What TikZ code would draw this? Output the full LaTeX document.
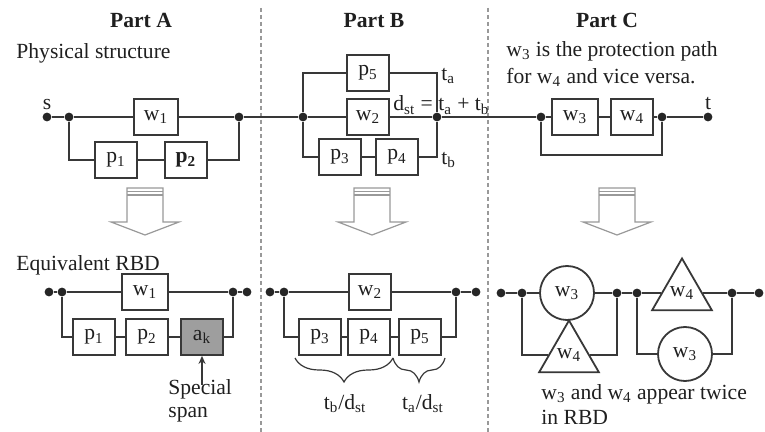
\documentclass[tikz,border=0pt]{standalone}
\usepackage{fontspec}
\setmainfont{Liberation Serif}
\usetikzlibrary{arrows.meta, shapes.geometric, decorations.pathreplacing, positioning}

\definecolor{wirecol}{gray}{0.22}
\definecolor{spanfill}{gray}{0.62}
\definecolor{divgray}{gray}{0.6}
\newcommand{\sbs}[1]{\textsubscript{#1}}

\begin{document}
\begin{tikzpicture}[x=0.5pt, y=-0.5pt,
    every node/.style={font=\fontsize{10.8}{13.5}\selectfont, text=black!88},
    head/.style={font=\fontsize{10.8}{13.5}\selectfont\bfseries},
    txt/.style={inner sep=1pt},
    blk/.style={draw=wirecol, line width=0.9pt, minimum width=21pt, minimum height=18pt, inner sep=0pt, fill=white},
    circ/.style={draw=wirecol, line width=0.9pt, circle, minimum size=27pt, inner sep=0pt},
    tri/.style={draw=wirecol, line width=0.9pt, regular polygon, regular polygon sides=3, minimum size=34.5pt, inner sep=0pt},
    dot/.style={circle, fill=black!85, inner sep=0pt, minimum size=4.4pt},
    ln/.style={draw=wirecol, line width=0.8pt},
    divider/.style={draw=divgray, line width=0.6pt, dash pattern=on 2pt off 1.5pt},
    hollow/.style={draw=divgray, line width=0.6pt, fill=white},
    brc/.style={decorate, decoration={brace, mirror, amplitude=12pt}, draw=wirecol, line width=0.6pt}
]
\useasboundingbox (0,0) rectangle (765,432);

% column dividers
\draw[divider] (261,8) -- (261,432);
\draw[divider] (488,8) -- (488,432);

\node[head, anchor=base] (hA) at (141,28) {Part A};
\node[head, anchor=base] (hB) at (374,28) {Part B};
\node[head, anchor=base] (hC) at (607,28) {Part C};

\node[txt, anchor=base west] (physA) at (14,59) {Physical structure};
\node[txt, anchor=north west, align=left] (noteC) at (504,39) {w\sbs{3} is the protection path\\for w\sbs{4} and vice versa.};

% physical structure, part A
\node[dot, label={[txt]above:s}] (s) at (47,117) {};
\node[dot] (aL) at (69,117) {};
\node[dot] (aR) at (239,117) {};
\node[blk, minimum width=22pt] (w1) at (156,117) {w\sbs{1}};
\node[blk] (p1) at (116,160) {p\sbs{1}};
\node[blk] (p2) at (186,160) {\textbf{p\sbs{2}}};

% physical structure, part B
\node[dot] (bL) at (303,117) {};
\node[dot] (bR) at (437,117) {};
\node[blk] (p5) at (368,73) {p\sbs{5}};
\node[blk] (w2) at (368,117) {w\sbs{2}};
\node[blk] (p3) at (340,157) {p\sbs{3}};
\node[blk] (p4) at (397,157) {p\sbs{4}};
\node[txt, anchor=west] (ta) at (439,76) {t\sbs{a}};
\node[txt, anchor=west] (tb) at (439,160) {t\sbs{b}};
\node[txt, anchor=base west] (dst) at (391,111) {d\sbs{st} = t\sbs{a} + t\sbs{b}};

% physical structure, part C
\node[dot] (cL) at (541,117) {};
\node[dot] (cR) at (662,117) {};
\node[blk, minimum width=23pt] (w3) at (575,117) {w\sbs{3}};
\node[blk] (w4) at (632,117) {w\sbs{4}};
\node[dot, label={[txt]above:t}] (t) at (708,117) {};
\coordinate (cB) at (600,155);

\draw[ln] (s) -- (aL) -- (w1) -- (aR) -- (bL) -- (w2) -- (bR) -- (cL) -- (w3) -- (w4) -- (cR) -- (t);
\draw[ln] (aL) |- (p1) -- (p2) -| (aR);
\draw[ln] (bL) |- (p5) -| (bR);
\draw[ln] (bL) |- (p3) -- (p4) -| (bR);
\draw[ln] (cL) |- (cB) -| (cR);

% hollow arrows
\foreach \ax in {145,372,617}{
  \draw[hollow] (\ax-18,188) -- (\ax+18,188) -- (\ax+18,222) -- (\ax+34,222) -- (\ax,235) -- (\ax-34,222) -- (\ax-18,222) -- cycle;
  \draw[hollow] (\ax-18,191.5) -- (\ax+18,191.5) (\ax-18,195) -- (\ax+18,195);
}

\node[txt, anchor=base west] (rbdA) at (14,271) {Equivalent RBD};

% equivalent RBD, part A
\node[dot] (a1) at (49,292) {};
\node[dot] (a2) at (62,292) {};
\node[dot] (a3) at (233,292) {};
\node[dot] (a4) at (247,292) {};
\node[blk, minimum width=23pt] (rw1) at (145,292) {w\sbs{1}};
\node[blk] (rp1) at (94,337) {p\sbs{1}};
\node[blk] (rp2) at (147,337) {p\sbs{2}};
\node[blk, fill=spanfill] (ak) at (202,337) {a\sbs{k}};
\node[txt, anchor=north west, align=left] (spec) at (166,377) {Special\\[-2pt]span};

\draw[ln] (a1) -- (a2) -- (rw1) -- (a3) -- (a4);
\draw[ln] (a2) |- (rp1) -- (rp2) -- (ak) -| (a3);
\draw[ln, -{Stealth[length=4pt, width=3.5pt]}] ([yshift=-4]spec.north -| ak.south) -- (ak.south);

% equivalent RBD, part B
\node[dot] (b1) at (270,292) {};
\node[dot] (b2) at (284,292) {};
\node[dot] (b3) at (456,292) {};
\node[dot] (b4) at (476,292) {};
\node[blk] (rw2) at (370,292) {w\sbs{2}};
\node[blk] (rp3) at (320,337) {p\sbs{3}};
\node[blk] (rp4) at (369,337) {p\sbs{4}};
\node[blk] (rp5) at (420,337) {p\sbs{5}};
\coordinate (br1) at (295,358);
\coordinate (br2) at (393,358);
\coordinate (br3) at (445,358);
\node[txt, anchor=base] (lb1) at (345,409) {t\sbs{b}/d\sbs{st}};
\node[txt, anchor=base] (lb2) at (423,409) {t\sbs{a}/d\sbs{st}};

\draw[ln] (b1) -- (b2) -- (rw2) -- (b3) -- (b4);
\draw[ln] (b2) |- (rp3) -- (rp4) -- (rp5) -| (b3);
\draw[brc] (br1) -- (br2);
\draw[brc] (br2) -- (br3);

% equivalent RBD, part C
\node[dot] (c1) at (501,293) {};
\node[dot] (c2) at (522,293) {};
\node[dot] (c3) at (617,293) {};
\node[dot] (c4) at (637,293) {};
\node[dot] (c5) at (732,293) {};
\node[dot] (c6) at (759,293) {};
\node[circ] (rw3a) at (567,293) {w\sbs{3}};
\node[tri] (rw4a) at (569,355) {w\sbs{4}};
\node[tri] (rw4b) at (682,293) {w\sbs{4}};
\node[circ] (rw3b) at (685,354) {w\sbs{3}};
\node[txt, anchor=north west, align=left] (noteD) at (539,382) {w\sbs{3} and w\sbs{4} appear twice\\[-1pt]in RBD};

\draw[ln] (c1) -- (c2) -- (rw3a) -- (c3) -- (c4) -- (rw4b) -- (c5) -- (c6);
\draw[ln] (c2) |- (rw4a) -| (c3);
\draw[ln] (c4) |- (rw3b) -| (c5);

\end{tikzpicture}
\end{document}
